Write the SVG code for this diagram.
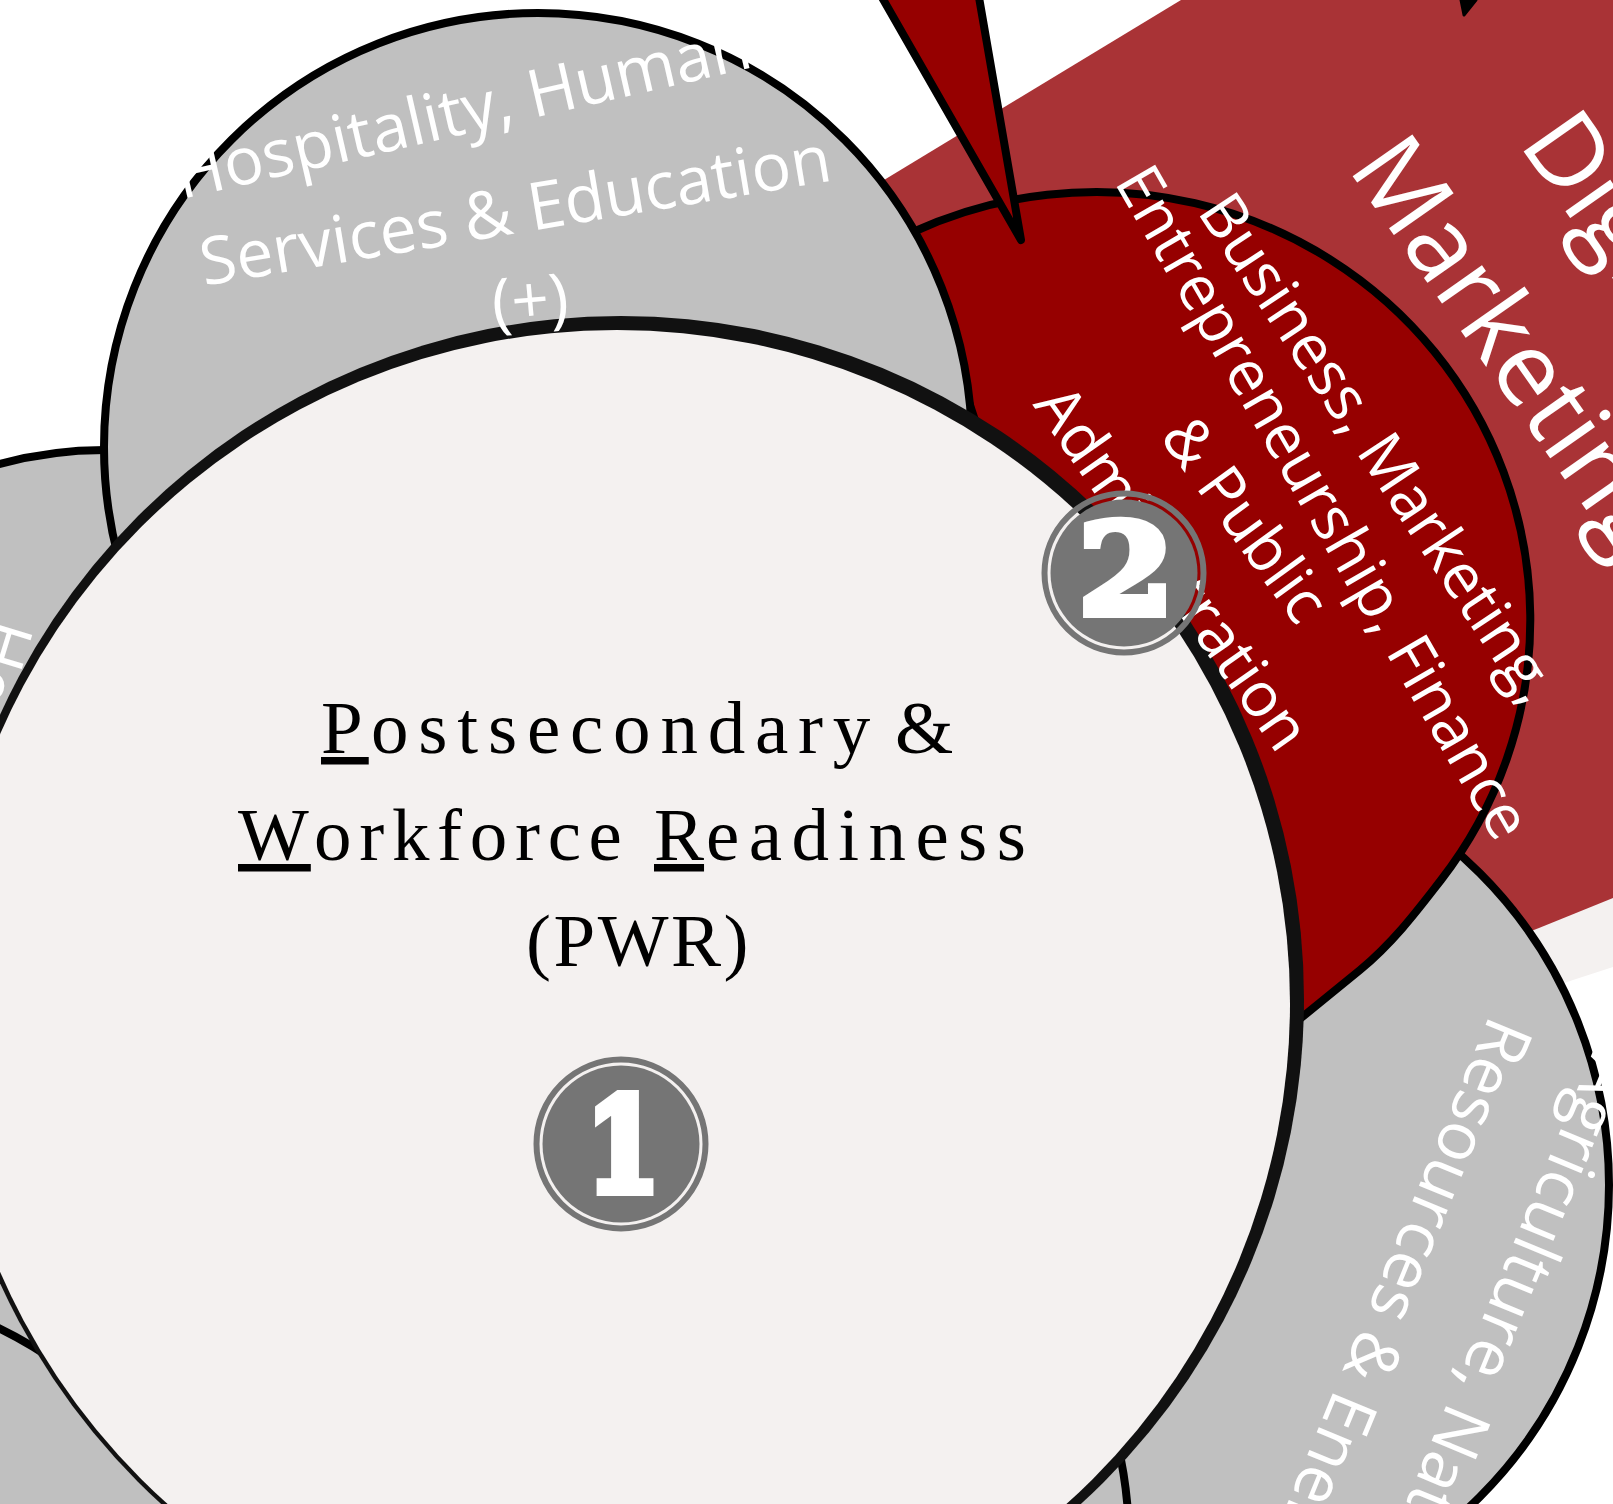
<svg xmlns="http://www.w3.org/2000/svg" width="1613" height="1504" viewBox="0 0 1613 1504">
<style>
.g{fill:#c0c0c0;stroke:#000;stroke-width:8}
.r{fill:#960000;stroke:#000;stroke-width:8;stroke-linejoin:round}
.l{font-family:"Open Sans","Noto Sans",sans-serif;fill:#fff;text-anchor:middle}
.s{font-family:"Liberation Serif","Times New Roman",serif;font-size:75px;fill:#000}
.u{text-decoration:underline}
.b{fill:#757575}
.br{fill:none;stroke:#757575;stroke-width:6}
.d{font-family:"DejaVu Serif",serif;font-weight:700;fill:#fff;stroke:#fff;text-anchor:middle}
</style>
<rect width="1613" height="1504" fill="#fff"/>
<g id="backdrop">
<polygon points="1613,898 1613,967 1573,980 1400,1040 1300,800" fill="#f4f1f0"/>
<polygon points="1181,0 1613,0 1613,898 1539,928 1300,1020 884,180" fill="#a93336"/>
<polygon points="1464,15 1461,0 1476,0" fill="#000" stroke="#000" stroke-width="3" stroke-linejoin="round"/>
</g>
<g id="node-left"><ellipse class="g" cx="105" cy="930" rx="440" ry="480"/></g>
<g id="node-lower-left"><circle class="g" cx="-192" cy="1718" r="434"/></g>
<g id="node-right"><circle class="g" cx="1168" cy="1185" r="441"/></g>
<g id="node-bottom"><circle class="g" cx="695" cy="1543" r="434"/></g>
<g id="node-business"><path class="r" d="M913 232A434 428 0 0 1 1441 880C1420 907 1395 941 1360 970L1290 1027L1100 800Z"/></g>
<g id="node-hospitality"><circle class="g" cx="538" cy="447" r="434"/></g>
<g id="connectors"><polygon class="r" points="872,-20 1021,240 976,-20"/></g>
<g id="node-pwr"><circle cx="621" cy="999" r="683" fill="#111"/><circle cx="617" cy="1003" r="673" fill="#f4f1f0"/>
<text class="s"><tspan class="u" x="321" y="753" letter-spacing="6">P</tspan><tspan x="371" y="753" letter-spacing="9.8">ostsecondary</tspan><tspan x="895" y="753">&amp;</tspan></text>
<text class="s"><tspan class="u" x="238" y="860" letter-spacing="2">W</tspan><tspan x="314" y="860" letter-spacing="7.7">orkforce</tspan><tspan class="u" x="654" y="860" letter-spacing="0">R</tspan><tspan x="706" y="860" letter-spacing="9.4">eadiness</tspan></text>
<text class="s" x="526" y="966" letter-spacing="2.5">(PWR)</text>
</g>
<g id="labels">
<text class="l" font-size="66" transform="translate(468,133) rotate(-13)">Hospitality, Human</text>
<text class="l" font-size="66" transform="translate(519,233) rotate(-9.5)">Services &amp; Education</text>
<text class="l" font-size="66" transform="translate(532,323) rotate(-5)">(+)</text>
<text class="l" font-size="62" transform="translate(1361,460) rotate(56.5)">Business, Marketing,</text>
<text class="l" font-size="62" transform="translate(1305,513) rotate(60)">Entrepreneurship, Finance</text>
<text class="l" font-size="62" transform="translate(1228,532) rotate(54)">&amp; Public</text>
<text class="l" font-size="62" transform="translate(1155,580) rotate(55)">Administration</text>
<text class="l" font-size="102" transform="translate(1485,365) rotate(55)">Marketing</text>
<text class="l" font-size="102" transform="translate(1604,266) rotate(55)">Digital</text>
<text class="l" font-size="67" transform="translate(1476,1334) rotate(112.5)">Agriculture, Natural</text>
<text class="l" font-size="67" transform="translate(1372,1299) rotate(112.5)">Resources &amp; Energy</text>
<text class="l" font-size="66" style="text-anchor:start" transform="translate(-11,615) rotate(107)">Health</text>
</g>
<g id="badge-1"><circle class="br" cx="621" cy="1144" r="84.5"/><circle class="b" cx="621" cy="1144" r="78.5"/><text class="d" font-size="129" stroke-width="10" transform="translate(623,1191) scale(.82,1)">1</text></g>
<g id="badge-2"><circle class="br" cx="1124" cy="573" r="79.5"/><circle class="b" cx="1124" cy="573" r="73.5"/><text class="d" font-size="125" stroke-width="8" transform="translate(1126,614) scale(1.1,1)">2</text></g>
</svg>
